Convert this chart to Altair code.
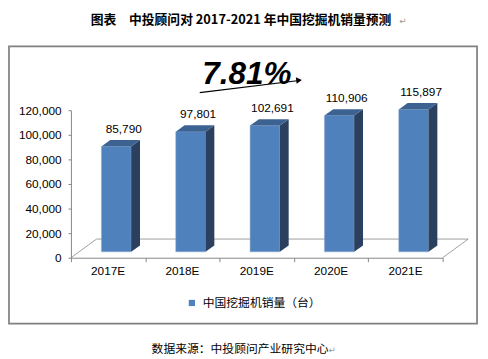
import altair as alt
import pandas as pd

# ---------------- data ----------------
categories = ["2017E", "2018E", "2019E", "2020E", "2021E"]
sales = [85790, 97801, 102691, 110906, 115897]
y_ticks = [0, 20000, 40000, 60000, 80000, 100000, 120000]
series_name = "中国挖掘机销量（台）"
growth_text = "7.81%"
title_text = "图表　中投顾问对 2017-2021 年中国挖掘机销量预测"
source_text = "数据来源：中投顾问产业研究中心"

# ---------------- geometry / style ----------------
W, H = 378, 150
Y_MAX = 120000
N = len(categories)
px_per_x = W / N
px_per_y = H / Y_MAX
DEPTH_DX = 9 / px_per_x
DEPTH_DY = 6.5 / px_per_y
FLOOR_DX = 26 / px_per_x
FLOOR_DY = 19 / px_per_y
LEFT, RIGHT = 0.41, 0.81
LIFT = -6

FRONT = "#4F81BD"
SIDE = "#2A405E"
TOP = "#3C6292"
GRAY = "#868686"
NUM_FONT = "Liberation Sans"
CJK_FONT = "Noto Sans CJK SC"

rows = []
for i, (c, v) in enumerate(zip(categories, sales)):
    rows.append(dict(cat=c, series=series_name, x=i + LEFT, x2=i + RIGHT, v=v,
                     lx=i + 0.71, cx=i + 0.5, label=f"{v:,}"))
bars = pd.DataFrame(rows)

side_rows, top_rows = [], []
for r in rows:
    side_rows.append(dict(cat=r["cat"], x=r["x2"], y=r["v"], y2=0))
    side_rows.append(dict(cat=r["cat"], x=r["x2"] + DEPTH_DX, y=r["v"] + DEPTH_DY, y2=DEPTH_DY))
    top_rows.append(dict(cat=r["cat"], y=r["v"], x=r["x"], x2=r["x2"]))
    top_rows.append(dict(cat=r["cat"], y=r["v"] + DEPTH_DY, x=r["x"] + DEPTH_DX, x2=r["x2"] + DEPTH_DX))
side = pd.DataFrame(side_rows)
top = pd.DataFrame(top_rows)

floor = pd.DataFrame([
    dict(x=FLOOR_DX, y=FLOOR_DY, x2=N + FLOOR_DX, y2=FLOOR_DY),
    dict(x=0, y=0, x2=FLOOR_DX, y2=FLOOR_DY),
    dict(x=N, y=0, x2=N + FLOOR_DX, y2=FLOOR_DY),
])

one = pd.DataFrame({"k": [0]})

xs = alt.Scale(domain=[0, N], nice=False, zero=False)
ys = alt.Scale(domain=[0, Y_MAX], nice=False)
x_axis = alt.Axis(values=list(range(N + 1)), labels=False, grid=False, title=None,
                  tickSize=4, tickColor=GRAY, domainColor=GRAY)
y_axis = alt.Axis(values=y_ticks, labelExpr="format(datum.value, ',')", grid=False,
                  title=None, tickSize=3, labelPadding=7, tickColor=GRAY, domainColor=GRAY,
                  labelFont=NUM_FONT, labelFontSize=12, labelColor="black")


def X(f):
    return alt.X(f, type="quantitative", scale=xs, axis=x_axis)


def Y(f):
    return alt.Y(f, type="quantitative", scale=ys, axis=y_axis)


floor_layer = alt.Chart(floor).mark_rule(color=GRAY, strokeWidth=0.8).encode(
    x=X("x"), x2="x2", y=Y("y"), y2="y2")

front_layer = alt.Chart(bars).mark_bar(yOffset=LIFT, y2Offset=LIFT, stroke="#8EACD3",
                                       strokeWidth=0.5).encode(
    x=X("x"), x2="x2", y=Y("v"), y2=alt.datum(0),
    color=alt.Color("series:N", scale=alt.Scale(range=[FRONT]),
                    legend=alt.Legend(orient="none", legendX=117, legendY=190, title=None,
                                      symbolType="square", symbolSize=40,
                                      symbolStrokeWidth=0, labelFont=CJK_FONT,
                                      labelFontSize=12, labelColor="black", padding=0,
                                      labelOffset=5)))

side_layer = alt.Chart(side).mark_area(orient="vertical", color=SIDE, yOffset=LIFT,
                                       y2Offset=LIFT).encode(
    x=X("x"), y=Y("y"), y2="y2", detail="cat:N")

top_layer = alt.Chart(top).mark_area(orient="horizontal", color=TOP, yOffset=LIFT).encode(
    y=Y("y"), x=X("x"), x2="x2", detail="cat:N")

labels_layer = alt.Chart(bars).mark_text(dy=LIFT - 6.5 - 4, baseline="bottom",
                                         font=NUM_FONT, fontSize=12, color="black").encode(
    x=X("lx"), y=Y("v"), text="label:N")

cat_layer = alt.Chart(bars).mark_text(baseline="middle", font=NUM_FONT, fontSize=12,
                                      color="black").encode(
    x=X("cx"), y=alt.value(164), text="cat:N")

growth_layer = alt.Chart(one).mark_text(font=NUM_FONT, fontSize=32, fontWeight="bold",
                                        fontStyle="italic", baseline="alphabetic",
                                        align="center", color="black").encode(
    x=alt.value(179), y=alt.value(-27), text=alt.value(growth_text))

arrow_line = alt.Chart(one).mark_rule(color="black", strokeWidth=1.2).encode(
    x=alt.value(131), y=alt.value(-18), x2=alt.value(230), y2=alt.value(-30))

arrow_head = alt.Chart(one).mark_point(shape="triangle-right", filled=True, color="black",
                                       size=45, angle=353, opacity=1).encode(
    x=alt.value(232), y=alt.value(-30.5))

title_layer = alt.Chart(one).mark_text(font=CJK_FONT, fontSize=13, fontWeight="bold",
                                       align="center", baseline="middle",
                                       color="black").encode(
    x=alt.value(173), y=alt.value(-92), text=alt.value(title_text))

title_mark = alt.Chart(one).mark_text(font="DejaVu Sans", fontSize=9, align="left",
                                      baseline="middle", color="#999999").encode(
    x=alt.value(334), y=alt.value(-91), text=alt.value("↵"))

source_layer = alt.Chart(one).mark_text(font=CJK_FONT, fontSize=12, align="center",
                                        baseline="middle", color="black").encode(
    x=alt.value(172), y=alt.value(243), text=alt.value(source_text))

source_mark = alt.Chart(one).mark_text(font="DejaVu Sans", fontSize=9, align="left",
                                       baseline="middle", color="#999999").encode(
    x=alt.value(262), y=alt.value(244), text=alt.value("↵"))

border_layer = alt.Chart(one).mark_rect(fill="transparent", stroke="#808080",
                                        strokeWidth=1.75).encode(
    x=alt.value(-63), x2=alt.value(413), y=alt.value(-65), y2=alt.value(217))

chart = alt.layer(
    border_layer, floor_layer, front_layer, side_layer, top_layer, labels_layer,
    cat_layer, growth_layer, arrow_line, arrow_head, title_layer, title_mark,
    source_layer, source_mark,
).properties(
    width=W, height=H,
    padding={"left": 64, "top": 101, "right": 38, "bottom": 100},
    autosize=alt.AutoSizeParams(type="none"),
    background="white",
).configure_view(stroke=None)

chart.save("out.html", embed_options={"renderer": "svg", "actions": False})
